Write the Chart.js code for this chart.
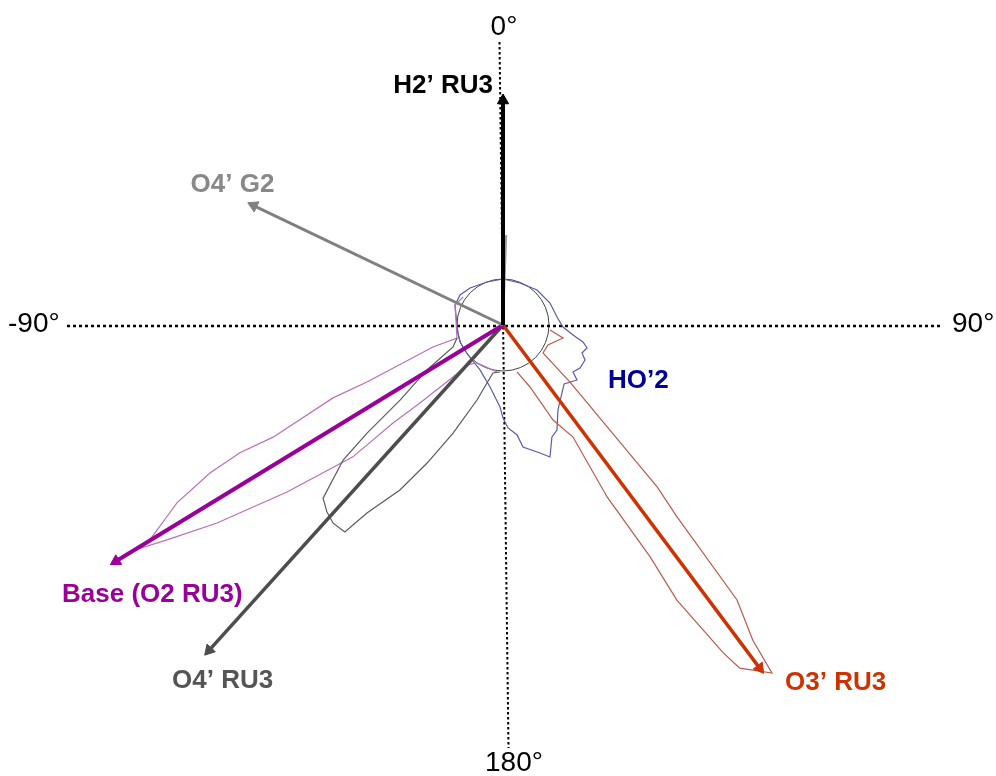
<!DOCTYPE html>
<html lang="en">
<head>
<meta charset="UTF-8">
<title>Torsion directions</title>
<script src="https://cdn.jsdelivr.net/npm/chart.js"></script>
<style>
    body { margin: 0; background: #fff; }
    #wrap { width: 996px; height: 776px; }
</style>
</head>
<body>
<div id="wrap"><canvas id="polarChart" width="996" height="776"></canvas></div>

<script>
    // mean directions, degrees clockwise from 0° (up), and lengths
    const arrowLabels  = ['H2’ RU3', 'O4’ G2', 'Base (O2 RU3)', 'O4’ RU3', 'O3’ RU3'];
    const arrowAngles  = [0, -64.4, -121.4, -137.9, 143.2];
    const arrowLengths = [231, 283, 460, 445, 435];

    // distribution outlines (angle in degrees, radius)
    const h2Angles   = [2, 2];
    const h2Radii    = [0, 90];

    const ho2Angles  = [-90, -67.4, -55.1, -41.7, -20.4, 0, 22.0, 44.2, 64.9, 81.6, 91.9, 98.1, 102, 105.3, 109.5, 113.1,
                        119.2, 123.9, 126.6, 134.0, 147.1, 152.8, 156.4, 160.4, 163.9, 170.7, 172.7, 177.2, 180, 182.1,
                        191.8, 207.1, 229.4, 248.4, 259.9, 270];
    const ho2Radii   = [46, 52, 52.4, 49.6, 45.9, 46, 45.3, 48.8, 51.9, 54.6, 60, 70.7, 81.8, 87.1, 83.8, 89.2,
                        88.2, 84.3, 92.2, 84.9, 101.2, 118.1, 122.2, 140.1, 133.2, 123.6, 110.9, 103.1, 93, 82,
                        63.3, 50.5, 46.1, 46.2, 45.7, 46];

    const o3Angles   = [96.1, 102.2, 114.0, 125.0, 130.4, 134.5, 136.4, 137.8, 139.6, 141.6, 142.3, 145.4, 146.1,
                        147.7, 147.6, 148.8, 148.0, 152.2, 156.5, 163.4];
    const o3Radii    = [47.3, 61.4, 49.2, 48.8, 88, 149.9, 223.5, 259.1, 361.1, 402.2, 439.8, 416.9, 395,
                        325.4, 274.6, 201, 132.1, 107.4, 67.6, 49];

    const baseAngles = [-55, -67.4, -84, -105.8, -107.4, -112.7, -113.2, -116.0, -115.9, -116.8, -118.6, -119.7,
                        -121.3, -121.6, -122.6, -124.7, -127.7, -131.3, -131.7, -133.2, -136.1, -138, -145.6, -172.7];
    const baseRadii  = [48.8, 52, 47.3, 47.8, 73.4, 147.5, 185, 255.8, 292.5, 328.3, 371.4, 387,
                        413.3, 426, 398.9, 347.8, 273, 199.8, 147.3, 113.9, 72.1, 53.8, 46, 47.4];

    const o4Angles   = [-105.8, -113.7, -120.6, -126.1, -128.5, -130.2, -133.9, -136.7, -139.4, -142.6, -144.1,
                        -148, -151.2, -155.2, -160.9, -164.6, -168.2, -176.3];
    const o4Radii    = [47.8, 54.6, 88.3, 127.4, 173.7, 209.3, 249.7, 256.8, 261, 260.4, 232,
                        194.5, 157.5, 119, 79.4, 60.2, 49, 47.1];

    const innerRadius = 46;

    // styles
    const arrowColors = ['#000000', '#808080', '#990099', '#4d4d4d', '#cc3300'];
    const arrowWidths = [4, 3, 4, 3.5, 3.5];
    const headSize = 6.5;

    function polar(angle, r) {
        const a = angle * Math.PI / 180;
        return { x: r * Math.sin(a), y: r * Math.cos(a) };
    }

    function outline(angles, radii, color, width) {
        return {
            data: angles.map((a, i) => polar(a, radii[i])),
            showLine: true,
            borderColor: color,
            borderWidth: width,
            pointRadius: 0,
            tension: 0,
            order: 5
        };
    }

    const datasets = [];

    // dotted reference axes
    datasets.push({
        data: [{ x: -3.5, y: 283 }, { x: 5.5, y: -423 }],
        showLine: true, borderColor: '#000', borderWidth: 2, borderDash: [2.5, 2.5],
        pointRadius: 0, order: 10
    });
    datasets.push({
        data: [{ x: -436, y: -1 }, { x: 440, y: -1 }],
        showLine: true, borderColor: '#000', borderWidth: 2.5, borderDash: [3, 3],
        pointRadius: 0, order: 10
    });

    datasets.push(outline(h2Angles, h2Radii, '#9a9a9a', 2));
    datasets.push(outline(o4Angles, o4Radii, '#5a5a5a', 1.2));
    datasets.push(outline(baseAngles, baseRadii, '#b870b8', 1.2));
    datasets.push(outline(o3Angles, o3Radii, '#b85a50', 1.2));
    datasets.push(outline(ho2Angles, ho2Radii, '#5a5aaa', 1.2));

    arrowAngles.forEach((a, i) => {
        datasets.push({
            label: arrowLabels[i],
            data: [polar(a, 0), polar(a, arrowLengths[i] - headSize)],
            showLine: true,
            borderColor: arrowColors[i],
            borderWidth: arrowWidths[i],
            pointRadius: [0, headSize],
            pointStyle: 'triangle',
            pointRotation: a,
            pointBackgroundColor: arrowColors[i],
            pointBorderColor: arrowColors[i],
            pointBorderWidth: 1,
            order: 1
        });
    });

    // text labels: [text, x, baseline y, align, colour, font]
    const bold = 'bold 26px "Liberation Sans", Arial, sans-serif';
    const plain = '28px "Liberation Sans", Arial, sans-serif';
    const textLabels = [
        ['0°', 1, 290, 'center', '#000', plain],
        ['180°', 11, -446, 'center', '#000', plain],
        ['-90°', -495, -7, 'left', '#000', plain],
        ['90°', 449, -7, 'left', '#000', plain],
        ['H2’ RU3', -10, 231.7, 'right', '#000', bold],
        ['O4’ G2', -270.5, 132.7, 'center', '#888888', bold],
        ['HO’2', 105, -63.3, 'left', '#000099', bold],
        ['Base (O2 RU3)', -441, -277.3, 'left', '#990099', bold],
        ['O4’ RU3', -331, -363, 'left', '#555555', bold],
        ['O3’ RU3', 282, -365, 'left', '#cc3300', bold]
    ];

    const decorations = {
        id: 'decorations',
        beforeDatasetsDraw(chart) {
            const { ctx, scales: { x, y } } = chart;
            const cx = x.getPixelForValue(0), cy = y.getPixelForValue(0);
            const r = x.getPixelForValue(innerRadius) - cx;
            ctx.save();
            ctx.beginPath();
            ctx.arc(cx, cy, r, 0, Math.PI * 2);
            ctx.strokeStyle = '#444';
            ctx.lineWidth = 1;
            ctx.stroke();
            ctx.restore();
        },
        afterDatasetsDraw(chart) {
            const { ctx, scales: { x, y } } = chart;
            ctx.save();
            ctx.textBaseline = 'alphabetic';
            textLabels.forEach(([t, lx, ly, align, color, font]) => {
                ctx.font = font;
                ctx.fillStyle = color;
                ctx.textAlign = align;
                ctx.fillText(t, x.getPixelForValue(lx), y.getPixelForValue(ly));
            });
            ctx.restore();
        }
    };

    const ctx = document.getElementById('polarChart').getContext('2d');
    new Chart(ctx, {
        type: 'scatter',
        data: { datasets },
        options: {
            responsive: false,
            animation: false,
            layout: { autoPadding: false, padding: 0 },
            plugins: { legend: { display: false }, tooltip: { enabled: false } },
            events: [],
            scales: {
                x: { display: false, min: -503, max: 493 },
                y: { display: false, min: -451, max: 325 }
            }
        },
        plugins: [decorations]
    });
</script>
</body>
</html>
